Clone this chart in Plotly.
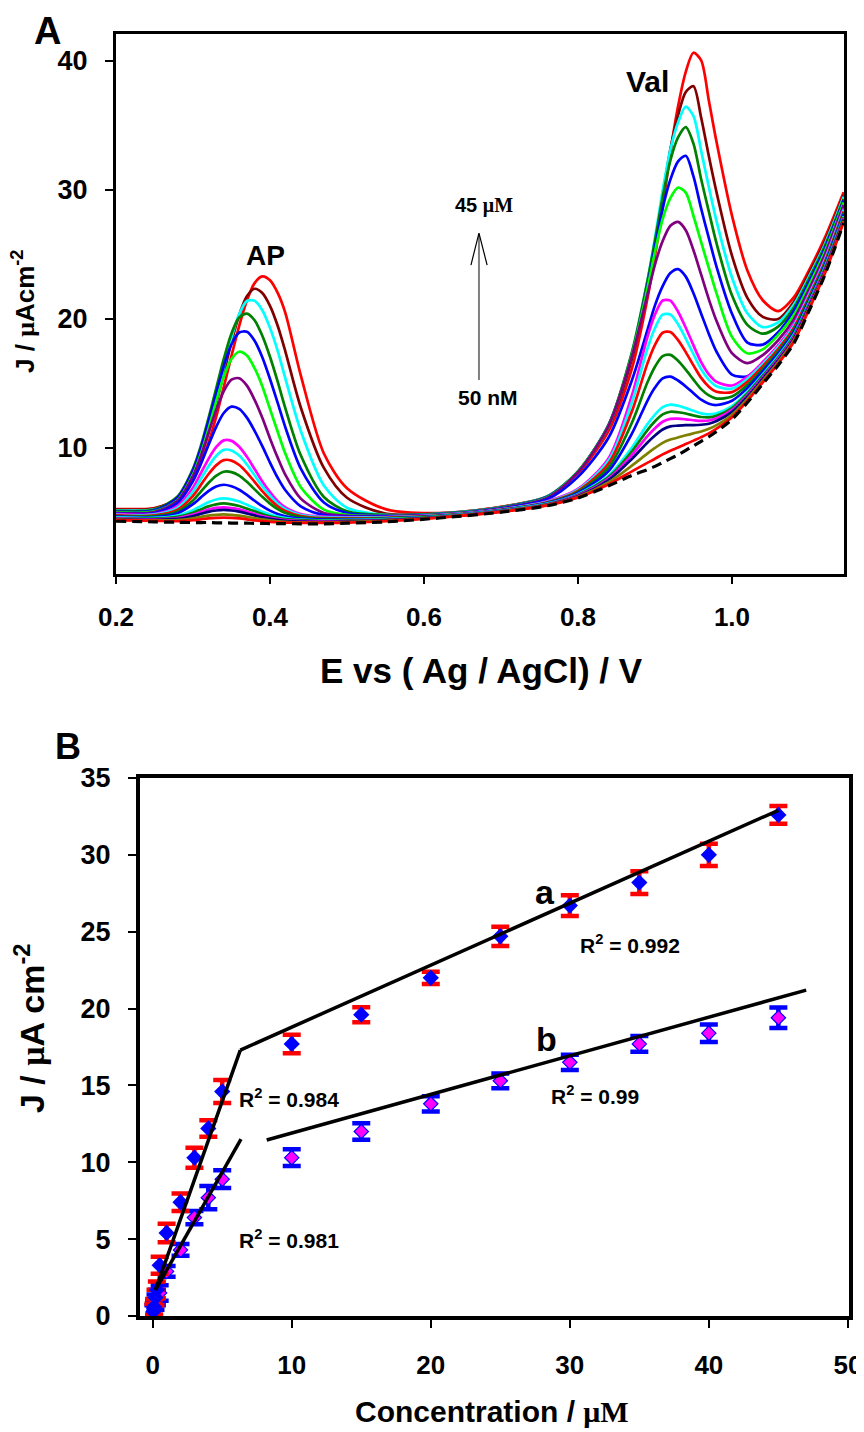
import plotly.graph_objects as go

# ---------------- Panel A : voltammograms ----------------
E_V = [0.20, 0.25, 0.28, 0.30, 0.31, 0.32, 0.33, 0.34, 0.35, 0.36, 0.37, 0.38, 0.39, 0.40, 0.41, 0.42,
       0.44, 0.47, 0.50, 0.55, 0.62, 0.70, 0.76, 0.80, 0.84, 0.87, 0.89, 0.90, 0.91, 0.92, 0.93, 0.94,
       0.95, 0.96, 0.97, 0.98, 1.00, 1.02, 1.04, 1.06, 1.08, 1.10, 1.12, 1.145]

J_BLANK = [4.3, 4.25, 4.22, 4.2, 4.2, 4.2, 4.18, 4.18, 4.16, 4.16, 4.15, 4.14, 4.13, 4.12, 4.12, 4.11, 4.1, 4.1, 4.15, 4.25,
           4.55, 5.0, 5.5,
           6.1, 7.05, 7.85, 8.3, 8.55, 8.85, 9.15, 9.45, 9.8, 10.15, 10.5, 10.85, 11.25, 12.2, 13.5, 14.95, 16.4, 18.05, 20.6, 23.3, 27.4]
J_01 = [4.38, 4.33, 4.3, 4.38, 4.45, 4.52, 4.56, 4.58, 4.56, 4.52, 4.45, 4.37, 4.31, 4.26, 4.22, 4.2, 4.18, 4.17, 4.2, 4.3,
        4.57, 5.02, 5.53,
        6.15, 7.17, 8.17, 8.82, 9.14, 9.48, 9.77, 10.01, 10.28, 10.55, 10.82, 11.11, 11.47, 12.36, 13.63, 15.07, 16.51, 18.17, 20.7, 23.4, 27.5]
J_02 = [4.42, 4.36, 4.39, 4.53, 4.63, 4.74, 4.80, 4.83, 4.79, 4.73, 4.64, 4.54, 4.44, 4.36, 4.3, 4.26, 4.21, 4.2, 4.24, 4.33,
        4.59, 5.04, 5.55,
        6.2, 7.33, 8.61, 9.54, 9.98, 10.37, 10.63, 10.79, 10.96, 11.11, 11.26, 11.46, 11.75, 12.56, 13.79, 15.2, 16.64, 18.29, 20.81, 23.5, 27.59]
J_03 = [4.47, 4.41, 4.48, 4.70, 4.87, 5.03, 5.13, 5.18, 5.13, 5.04, 4.90, 4.75, 4.60, 4.48, 4.40, 4.33, 4.27, 4.24, 4.28, 4.36,
        4.61, 5.06, 5.58,
        6.26, 7.51, 9.13, 10.39, 10.95, 11.41, 11.65, 11.71, 11.75, 11.75, 11.78, 11.86, 12.07, 12.78, 13.96, 15.35, 16.77, 18.42, 20.93, 23.61, 27.69]
J_04 = [4.5, 4.45, 4.55, 4.81, 5.01, 5.2, 5.33, 5.38, 5.32, 5.22, 5.06, 4.88, 4.71, 4.57, 4.47, 4.39, 4.32, 4.28, 4.31, 4.39,
        4.63, 5.08, 5.6,
        6.31, 7.63, 9.43, 10.88, 11.51, 12.01, 12.23, 12.25, 12.2, 12.13, 12.08, 12.11, 12.28, 12.93, 14.08, 15.46, 16.88, 18.53, 21.03, 23.71, 27.78]
J_05 = [4.55, 4.5, 4.64, 4.96, 5.21, 5.45, 5.61, 5.68, 5.61, 5.48, 5.28, 5.07, 4.86, 4.68, 4.56, 4.47, 4.38, 4.33, 4.36, 4.43,
        4.65, 5.1, 5.63,
        6.36, 7.74, 9.72, 11.35, 12.05, 12.58, 12.79, 12.75, 12.65, 12.5, 12.38, 12.35, 12.48, 13.08, 14.21, 15.58, 16.99, 18.64, 21.13, 23.81, 27.87]
J_06 = [4.6, 4.56, 4.74, 5.16, 5.47, 5.78, 5.99, 6.08, 6.0, 5.83, 5.58, 5.30, 5.04, 4.82, 4.66, 4.55, 4.43, 4.37, 4.39, 4.46,
        4.67, 5.12, 5.66,
        6.4, 7.85, 10.0, 11.81, 12.57, 13.14, 13.34, 13.25, 13.07, 12.86, 12.66, 12.59, 12.67, 13.23, 14.33, 15.69, 17.1, 18.74, 21.23, 23.9, 27.95]
J_07 = [4.65, 4.63, 4.92, 5.62, 6.13, 6.63, 6.99, 7.13, 7.01, 6.74, 6.34, 5.89, 5.47, 5.12, 4.86, 4.68, 4.5, 4.42, 4.43, 4.49,
        4.69, 5.14, 5.7,
        6.5, 8.21, 11.09, 13.62, 14.66, 15.37, 15.51, 15.21, 14.75, 14.22, 13.72, 13.41, 13.31, 13.64, 14.62, 15.92, 17.29, 18.93, 21.39, 24.05, 28.09]
J_08 = [4.7, 4.69, 5.05, 5.91, 6.58, 7.26, 7.82, 8.14, 8.11, 7.84, 7.36, 6.77, 6.19, 5.67, 5.24, 4.94, 4.63, 4.49, 4.48, 4.53,
        4.71, 5.16, 5.73,
        6.58, 8.49, 11.93, 15.03, 16.28, 17.1, 17.2, 16.74, 16.05, 15.28, 14.54, 14.05, 13.81, 13.96, 14.86, 16.11, 17.46, 19.09, 21.54, 24.18, 28.2]
J_09 = [4.75, 4.75, 5.2, 6.27, 7.1, 7.94, 8.63, 9.04, 9.0, 8.66, 8.07, 7.35, 6.63, 5.99, 5.46, 5.09, 4.71, 4.54, 4.52, 4.57,
        4.73, 5.18, 5.77,
        6.66, 8.79, 12.82, 16.5, 17.97, 18.91, 18.97, 18.34, 17.41, 16.38, 15.41, 14.73, 14.34, 14.31, 15.11, 16.32, 17.64, 19.26, 21.68, 24.31, 28.32]
J_10 = [4.8, 4.81, 5.34, 6.6, 7.56, 8.55, 9.36, 9.83, 9.79, 9.39, 8.71, 7.86, 7.02, 6.28, 5.66, 5.23, 4.78, 4.6, 4.57, 4.6,
        4.75, 5.2, 5.8,
        6.73, 9.02, 13.51, 17.64, 19.28, 20.31, 20.33, 19.57, 18.46, 17.25, 16.08, 15.26, 14.76, 14.58, 15.32, 16.48, 17.79, 19.4, 21.81, 24.43, 28.43]
J_11 = [4.85, 4.86, 5.48, 6.9, 8.0, 9.12, 10.04, 10.57, 10.53, 10.08, 9.3, 8.35, 7.39, 6.56, 5.85, 5.37, 4.86, 4.65, 4.61, 4.63,
        4.77, 5.22, 5.85,
        6.8, 9.21, 14.05, 18.54, 20.32, 21.41, 21.4, 20.54, 19.3, 17.93, 16.63, 15.68, 15.1, 14.82, 15.49, 16.64, 17.93, 19.54, 21.93, 24.55, 28.54]
J_12 = [4.9, 4.94, 5.71, 7.41, 8.72, 10.19, 11.6, 12.69, 13.18, 13.01, 12.33, 11.31, 10.12, 8.85, 7.67, 6.7, 5.45, 4.78, 4.66, 4.67,
        4.79, 5.27, 6.0,
        7.74, 10.81, 15.22, 19.07, 21.03, 22.53, 23.54, 23.84, 23.26, 21.97, 20.39, 18.82, 17.44, 15.67, 15.54, 16.56, 17.88, 19.52, 21.94, 24.57, 28.54]
J_13 = [4.95, 5.01, 5.88, 7.8, 9.31, 11.12, 12.9, 14.39, 15.27, 15.38, 14.81, 13.71, 12.32, 10.72, 9.23, 7.89, 6.05, 4.94, 4.72, 4.7,
        4.81, 5.3, 6.1,
        8.1, 11.72, 17.08, 21.81, 24.2, 26.02, 27.21, 27.51, 26.86, 25.31, 23.41, 21.5, 19.82, 17.33, 16.55, 17.18, 18.33, 19.91, 22.26, 24.88, 28.81]
J_14 = [5.0, 5.06, 5.93, 7.92, 9.49, 11.44, 13.56, 15.51, 16.87, 17.44, 17.14, 16.16, 14.77, 13.0, 11.24, 9.53, 6.94, 5.2, 4.79, 4.72,
        4.83, 5.32, 6.15,
        8.14, 11.73, 17.2, 22.31, 25.2, 27.73, 29.35, 30.16, 29.77, 27.96, 25.94, 23.93, 21.96, 18.59, 17.32, 17.62, 18.74, 20.25, 22.57, 25.13, 29.02]
J_15 = [5.05, 5.14, 6.13, 8.24, 9.91, 12.03, 14.2, 16.33, 18.02, 18.93, 18.98, 18.29, 17.02, 15.33, 13.47, 11.57, 8.38, 5.75, 4.94, 4.75,
        4.85, 5.34, 6.18,
        8.13, 11.78, 17.2, 22.49, 25.56, 28.56, 30.78, 32.2, 32.63, 31.03, 28.53, 26.24, 24.02, 20.39, 18.15, 17.99, 18.95, 20.59, 22.86, 25.36, 29.16]
J_16 = [5.1, 5.2, 6.23, 8.37, 10.1, 12.25, 14.56, 16.88, 18.86, 20.09, 20.4, 19.88, 18.68, 17.05, 15.12, 13.05, 9.41, 6.18, 5.07, 4.78,
        4.87, 5.36, 6.2,
        8.17, 11.82, 17.39, 22.86, 26.05, 29.41, 32.28, 34.05, 34.85, 33.57, 30.81, 28.3, 25.84, 21.81, 19.52, 18.84, 19.39, 20.83, 23.08, 25.54, 29.29]
J_17 = [5.15, 5.23, 6.06, 7.89, 9.44, 11.42, 13.78, 16.25, 18.54, 20.36, 21.37, 21.39, 20.66, 19.29, 17.51, 15.36, 11.3, 7.07, 5.35, 4.8,
        4.89, 5.38, 6.22,
        8.17, 11.73, 17.34, 22.87, 26.25, 29.93, 33.1, 35.22, 36.44, 35.7, 33.0, 30.19, 27.55, 23.2, 20.42, 19.35, 19.71, 21.06, 23.26, 25.7, 29.46]
J_18 = [5.2, 5.29, 6.09, 7.78, 9.25, 11.15, 13.37, 15.79, 18.19, 20.3, 21.74, 22.32, 22.0, 21.0, 19.45, 17.45, 13.12, 8.43, 6.12, 4.9,
        4.91, 5.4, 6.22,
        8.15, 11.7, 16.89, 22.41, 25.82, 29.54, 33.13, 35.76, 37.58, 38.02, 35.58, 32.59, 29.79, 24.89, 21.62, 20.14, 19.98, 21.28, 23.47, 25.89, 29.57]
J_19 = [5.25, 5.33, 6.04, 7.52, 8.75, 10.37, 12.37, 14.72, 17.12, 19.45, 21.41, 22.76, 23.28, 22.98, 22.0, 20.44, 15.61, 9.55, 6.86, 5.24,
        4.93, 5.42, 6.2,
        8.01, 11.33, 16.14, 21.5, 24.87, 28.58, 32.89, 36.46, 39.14, 40.62, 40.02, 36.9, 33.69, 27.99, 23.74, 21.43, 20.59, 21.63, 23.75, 26.19, 29.81]

CURVE_COLORS = ["#FF0000", "#808000", "#000080", "#FF00FF", "#008000", "#00FFFF", "#0000FF",
                "#008000", "#FF0000", "#00FFFF", "#FF00FF", "#0000FF", "#800080", "#00FF00",
                "#0000FF", "#008000", "#00FFFF", "#800000", "#FF0000"]
CURVES = [J_01, J_02, J_03, J_04, J_05, J_06, J_07, J_08, J_09, J_10,
          J_11, J_12, J_13, J_14, J_15, J_16, J_17, J_18, J_19]

# ---------------- Panel B : calibration ----------------
CONC = [0.05, 0.1, 0.2, 0.3, 0.5, 1, 2, 3, 4, 5, 10, 15, 20, 25, 30, 35, 40, 45]
J_A = [0.3, 0.6, 1.2, 1.7, 3.3, 5.4, 7.4, 10.3, 12.2, 14.6, 17.7, 19.6, 22.0, 24.7, 26.7, 28.2, 30.0, 32.6]
ERR_A = [0.5, 0.5, 0.5, 0.55, 0.55, 0.6, 0.57, 0.65, 0.54, 0.75, 0.6, 0.49, 0.4, 0.63, 0.68, 0.74, 0.72, 0.58]
J_B = [0.2, 0.5, 0.9, 1.2, 1.5, 2.9, 4.3, 6.4, 7.7, 8.9, 10.3, 12.0, 13.8, 15.3, 16.5, 17.7, 18.4, 19.4]
ERR_B = [0.5, 0.5, 0.5, 0.5, 0.5, 0.35, 0.38, 0.43, 0.76, 0.58, 0.54, 0.54, 0.5, 0.48, 0.49, 0.51, 0.57, 0.67]

FIT_A_LOW_X = [0.2, 6.3]
FIT_A_LOW_Y = [1.7, 17.3]
FIT_A_HIGH_X = [6.3, 45.0]
FIT_A_HIGH_Y = [17.3, 32.9]
FIT_B_LOW_X = [0.2, 6.35]
FIT_B_LOW_Y = [1.7, 11.5]
FIT_B_HIGH_X = [8.2, 47.0]
FIT_B_HIGH_Y = [11.45, 21.2]

SANS = "Liberation Sans, Arial, Helvetica, sans-serif"
MU = '<span style="font-family:Liberation Serif, Times New Roman, serif">μ</span>'
MUM = '<span style="font-family:Liberation Serif, Times New Roman, serif">μM</span>'

fig = go.Figure()

for col, ys in reversed(list(zip(CURVE_COLORS, CURVES))):
    fig.add_trace(go.Scatter(x=E_V, y=ys, mode="lines", xaxis="x", yaxis="y",
                             line=dict(color=col, width=2.7, shape="spline", smoothing=0.8),
                             hoverinfo="skip", showlegend=False))
fig.add_trace(go.Scatter(x=E_V, y=J_BLANK, mode="lines", xaxis="x", yaxis="y",
                         line=dict(color="black", width=3.2, dash="10px,6px", shape="spline", smoothing=0.8),
                         hoverinfo="skip", showlegend=False))

fig.add_trace(go.Scatter(x=CONC, y=J_B, mode="markers", xaxis="x2", yaxis="y2",
                         marker=dict(symbol="diamond", size=11, color="#FF00FF", line=dict(color="#0000FF", width=1.2)),
                         error_y=dict(type="data", array=ERR_B, visible=True, color="#0000FF", thickness=4.5, width=9),
                         showlegend=False))
fig.add_trace(go.Scatter(x=CONC, y=J_A, mode="markers", xaxis="x2", yaxis="y2",
                         marker=dict(symbol="diamond", size=12.5, color="#0000FF", line=dict(width=0)),
                         error_y=dict(type="data", array=ERR_A, visible=True, color="#FF0000", thickness=4.5, width=9),
                         showlegend=False))
for xs, ys in [(FIT_A_LOW_X, FIT_A_LOW_Y), (FIT_A_HIGH_X, FIT_A_HIGH_Y),
               (FIT_B_LOW_X, FIT_B_LOW_Y), (FIT_B_HIGH_X, FIT_B_HIGH_Y)]:
    fig.add_trace(go.Scatter(x=xs, y=ys, mode="lines", xaxis="x2", yaxis="y2",
                             line=dict(color="black", width=3.5), showlegend=False, hoverinfo="skip"))

# the page places the figure 8 px from the top-left corner of the window
OFF = 8
W, H = 864 - OFF, 1432 - OFF
def px(x):
    return (x - OFF) / W
def py(y):
    return 1 - (y - OFF) / H

axis_common = dict(showline=True, linecolor="black", mirror=True, ticks="outside", automargin=False,
                   tickcolor="black", tickwidth=1.5, showgrid=False, zeroline=False)

fig.update_layout(
    template="none",
    width=W, height=H, margin=dict(l=0, r=0, t=0, b=0, pad=0),
    paper_bgcolor="white", plot_bgcolor="white",
    xaxis=dict(domain=[px(116), px(844)], range=[0.2, 1.1455], anchor="y",
               tickvals=[0.2, 0.4, 0.6, 0.8, 1.0], ticktext=["0.2", "0.4", "0.6", "0.8", "1.0"],
               linewidth=3, ticklen=7, ticklabelstandoff=11,
               tickfont=dict(family=SANS, size=26, color="black", weight="bold"), **axis_common),
    yaxis=dict(domain=[py(574), py(34)], range=[0.21, 42.07], anchor="x",
               tickvals=[10, 20, 30, 40], linewidth=3, ticklen=8, ticklabelstandoff=12,
               tickfont=dict(family=SANS, size=27, color="black", weight="bold"), **axis_common),
    xaxis2=dict(domain=[px(140), px(849)], range=[-0.914, 50.08], anchor="y2",
                tickvals=[0, 10, 20, 30, 40, 50], linewidth=4, ticklen=8, ticklabelstandoff=15,
                tickfont=dict(family=SANS, size=26, color="black", weight="bold"), **axis_common),
    yaxis2=dict(domain=[py(1316), py(778)], range=[0, 35], anchor="x2",
                tickvals=[0, 5, 10, 15, 20, 25, 30, 35], linewidth=4, ticklen=8, ticklabelstandoff=12,
                tickfont=dict(family=SANS, size=27, color="black", weight="bold"), **axis_common),
)

def note(text, x, y, size, xref="paper", yref="paper", angle=0):
    fig.add_annotation(text=text, x=x, y=y, xref=xref, yref=yref, showarrow=False,
                       xanchor="center", yanchor="middle", textangle=angle,
                       font=dict(family=SANS, size=size, color="black"))

# panel A texts
note("<b>A</b>", px(47), py(31), 38)
note("<b>AP</b>", 0.394, 24.9, 28, "x", "y")
note("<b>Val</b>", 0.890, 38.4, 30, "x", "y")
note("<b>45 " + MUM + "</b>", 0.678, 28.8, 20, "x", "y")
note("<b>50 nM</b>", 0.683, 13.9, 21, "x", "y")
note("<b>E vs ( Ag / AgCl) / V</b>", px(481), py(671), 35)
note("<b>J / " + MU + "Acm<sup>-2</sup></b>", px(24), py(312), 26, angle=-90)

# arrow (shaft + open head)
fig.add_shape(type="line", x0=0.6714, y0=15.25, x1=0.6714, y1=26.6, xref="x", yref="y",
              line=dict(color="#7f7f7f", width=2))
fig.add_shape(type="path", path="M 0.661 24.16 L 0.6714 26.64 L 0.682 24.16", xref="x", yref="y",
              line=dict(color="black", width=1.2))

# panel B texts
note("<b>B</b>", px(68), py(746), 36)
note("<b>a</b>", 28.2, 27.6, 34, "x2", "y2")
note("<b>b</b>", 28.3, 18.0, 34, "x2", "y2")
note("<b>R<sup>2</sup> = 0.992</b>", 34.3, 24.2, 21, "x2", "y2")
note("<b>R<sup>2</sup> = 0.99</b>", 31.8, 14.4, 21, "x2", "y2")
note("<b>R<sup>2</sup> = 0.984</b>", 9.8, 14.2, 21, "x2", "y2")
note("<b>R<sup>2</sup> = 0.981</b>", 9.8, 5.0, 21, "x2", "y2")
note("<b>Concentration / " + MUM + "</b>", px(492), py(1411), 30)
note("<b>J / " + MU + "A cm<sup>-2</sup></b>", px(29), py(1028), 34, angle=-90)

fig.write_html("out.html")
